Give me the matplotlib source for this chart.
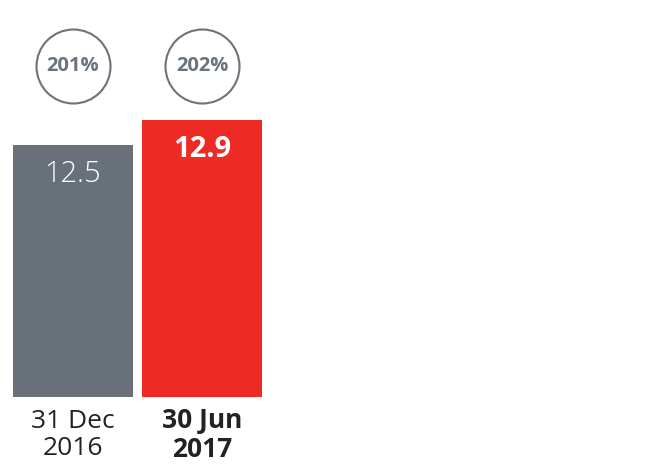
import matplotlib
matplotlib.use("Agg")
import matplotlib.pyplot as plt
import matplotlib.transforms as mtransforms

plt.rcParams['font.family'] = ['Open Sans', 'DejaVu Sans']

# data
periods = ["31 Dec\n2016", "30 Jun\n2017"]
values = [12.5, 12.9]
ratios = ["201%", "202%"]
colors = ["#68717a", "#ee2a24"]
label_weights = ["normal", "bold"]

W, H = 660, 466
fig = plt.figure(figsize=(W / 100, H / 100), dpi=100)
# axes from bar baseline (y=397px) to top of figure
ax = fig.add_axes([0, (H - 397) / H, 1, 397 / H])
ax.set_xlim(-0.566, 4.55)
ax.set_ylim(8.47, 14.82)
ax.axis("off")

x = list(range(len(values)))
ax.bar(x, values, width=0.93, color=colors, bottom=0)

for i, v in enumerate(values):
    ax.annotate(f"{v}", (i, v), xytext=(0, -29 * 0.72), textcoords="offset points",
                ha="center", va="center", color="white", fontsize=21,
                fontweight="light" if i == 0 else "bold")

# circles with ratio
trans = mtransforms.blended_transform_factory(ax.transData, ax.transAxes)
cy = (397 - 66) / 397
ax.scatter(x, [cy] * len(x), s=(74 * 0.72) ** 2, facecolor="white",
           edgecolor="#6b737b", linewidth=1.5, transform=trans, clip_on=False, zorder=3)
for i, r in enumerate(ratios):
    ax.text(i, cy, r, transform=trans, ha="center", va="center", fontsize=14.5,
            fontweight="bold", color="#6b737b", zorder=4)

# category labels below bars
for i, p in enumerate(periods):
    ax.annotate(p, (i, 0), xycoords=trans, xytext=(0, -38 * 0.72), textcoords="offset points",
                ha="center", va="center", fontsize=19, color="#222222",
                fontweight=label_weights[i], linespacing=1.12)

fig.savefig("out.png", dpi=100)
